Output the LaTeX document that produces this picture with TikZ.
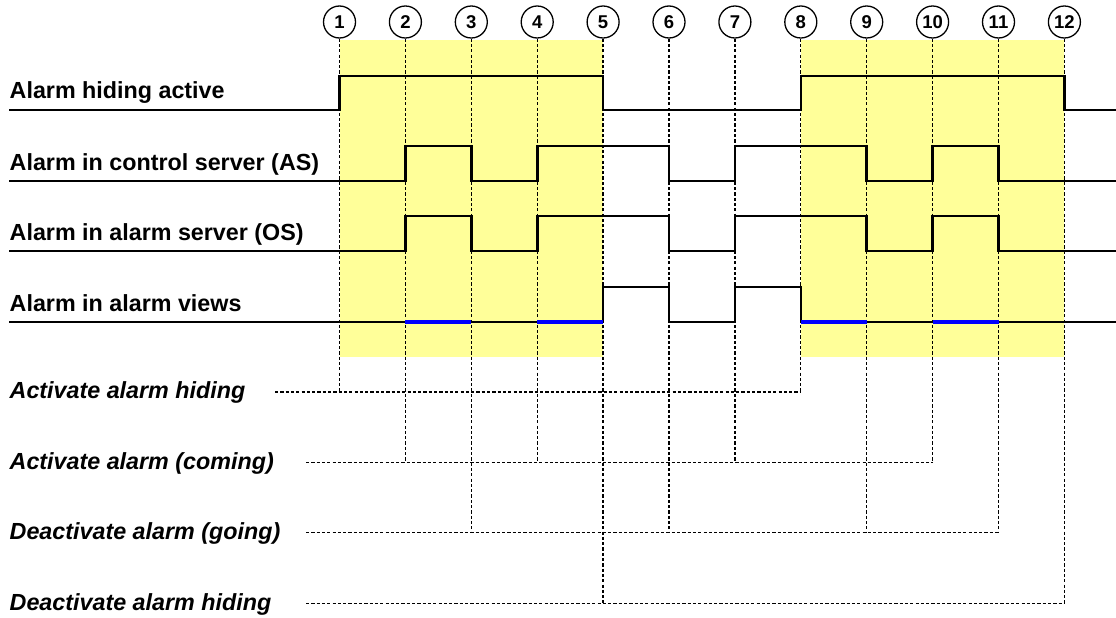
\documentclass[tikz,border=0pt]{standalone}
\usepackage{fontspec}
\setmainfont{Liberation Sans}
\usepackage{tikz}
\usetikzlibrary{positioning,calc}

\definecolor{hidebg}{HTML}{FFFF99}

\begin{document}
\begin{tikzpicture}[
    x=1pt, y=-1pt,
    event/.style={draw, circle, line width=1.3pt, minimum size=32pt, inner sep=0pt, fill=white, font=\fontsize{18.5}{20}\selectfont\bfseries},
    sigtext/.style={anchor=base west, inner sep=0pt, font=\fontsize{23.3}{26}\selectfont\bfseries},
    acttext/.style={anchor=base west, inner sep=0pt, font=\fontsize{23.3}{26}\selectfont\bfseries\itshape},
    guide/.style={line width=1.3pt, dash pattern=on 3.2pt off 2.1pt},
    wave/.style={line width=2.6pt},
    hidden/.style={line width=4.8pt, blue}
]
    \useasboundingbox (0,0) rectangle (1116,618);

    % hiding periods
    \fill[hidebg] (339.5,40) rectangle (603.1,357);
    \fill[hidebg] (800.8,40) rectangle (1064.4,357);

    % events
    \node[event] (e1) at (339.5,22) {1};
    \node[event] (e2) at (405.4,22) {2};
    \node[event] (e3) at (471.3,22) {3};
    \node[event] (e4) at (537.2,22) {4};
    \node[event] (e5) at (603.1,22) {5};
    \node[event] (e6) at (669.0,22) {6};
    \node[event] (e7) at (734.9,22) {7};
    \node[event] (e8) at (800.8,22) {8};
    \node[event] (e9) at (866.7,22) {9};
    \node[event] (e10) at (932.6,22) {10};
    \node[event] (e11) at (998.5,22) {11};
    \node[event] (e12) at (1064.4,22) {12};

    % signal names
    \node[sigtext] (ha) at (9.5,99) {Alarm hiding active};
    \node[sigtext] (as) at (9.5,170) {Alarm in control server (AS)};
    \node[sigtext] (os) at (9.5,240) {Alarm in alarm server (OS)};
    \node[sigtext] (av) at (9.5,311) {Alarm in alarm views};

    % actions
    \node[acttext] (ah) at (9.5,398.5) {Activate alarm hiding};
    \node[acttext] (ac) at (9.5,469) {Activate alarm (coming)};
    \node[acttext] (dg) at (9.5,539) {Deactivate alarm (going)};
    \node[acttext] (dh) at (9.5,610) {Deactivate alarm hiding};

    \coordinate (ahs) at (275,392);
    \coordinate (acs) at (306,462.5);
    \coordinate (dgs) at (306,532.5);
    \coordinate (dhs) at (306,603.3);

    \draw[guide] (ahs) -- (e8 |- ahs);
    \draw[guide] (acs) -- (e10 |- acs);
    \draw[guide] (dgs) -- (e11 |- dgs);
    \draw[guide] (dhs) -- (e12 |- dhs);

    \draw[guide] (e1.south) -- (e1 |- ahs);
    \draw[guide] (e8.south) -- (e8 |- ahs);
    \draw[guide] (e2.south) -- (e2 |- acs);
    \draw[guide] (e4.south) -- (e4 |- acs);
    \draw[guide] (e7.south) -- (e7 |- acs);
    \draw[guide] (e10.south) -- (e10 |- acs);
    \draw[guide] (e3.south) -- (e3 |- dgs);
    \draw[guide] (e6.south) -- (e6 |- dgs);
    \draw[guide] (e9.south) -- (e9 |- dgs);
    \draw[guide] (e11.south) -- (e11 |- dgs);
    \draw[guide] (e5.south) -- (e5 |- dhs);
    \draw[guide] (e12.south) -- (e12 |- dhs);

    % waveforms
    \draw[wave] (9,110) -| (339.5,76) -| (603.1,110) -| (800.8,76) -| (1064.4,110) -- (1116,110);
    \draw[wave] (9,181) -| (405.4,146) -| (471.3,181) -| (537.2,146) -| (669.0,181) -| (734.9,146) -| (866.7,181) -| (932.6,146) -| (998.5,181) -- (1116,181);
    \draw[wave] (9,251) -| (405.4,216) -| (471.3,251) -| (537.2,216) -| (669.0,251) -| (734.9,216) -| (866.7,251) -| (932.6,216) -| (998.5,251) -- (1116,251);
    \draw[wave] (9,322) -| (603.1,287) -| (669.0,322) -| (734.9,287) -| (800.8,322) -- (1116,322);

    \draw[hidden] (405.4,322) -- (471.3,322);
    \draw[hidden] (537.2,322) -- (603.1,322);
    \draw[hidden] (800.8,322) -- (866.7,322);
    \draw[hidden] (932.6,322) -- (998.5,322);
\end{tikzpicture}
\end{document}
